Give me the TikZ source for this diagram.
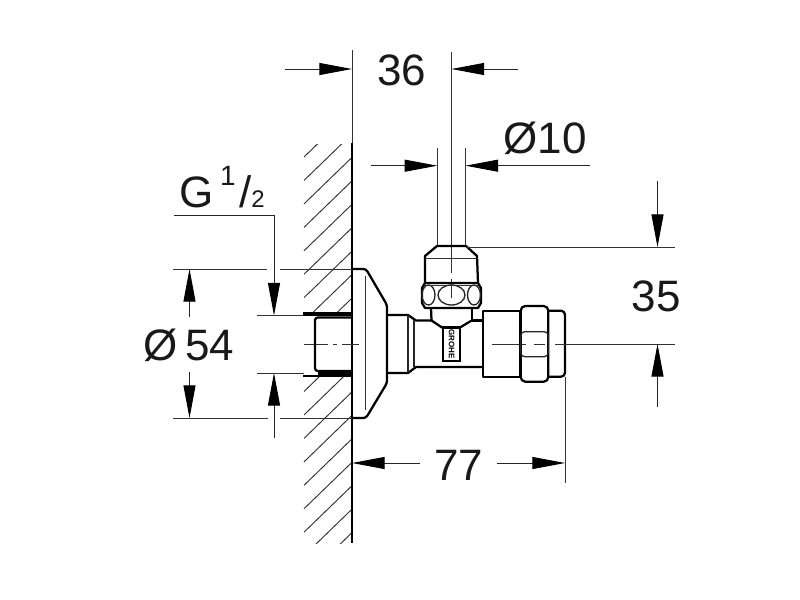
\documentclass[tikz,border=0pt]{standalone}
\usepackage{fontspec}
\setmainfont{Liberation Sans}
\usetikzlibrary{arrows.meta}
\tikzset{
  thin line/.style={line width=0.75pt,draw=black!80},
  part/.style={line width=1.7pt,draw=black,line join=round},
  mid line/.style={line width=1.0pt,draw=black!85},
  dimarrow/.style={line width=0.75pt,draw=black!85,-{Triangle[length=24.5pt,width=9pt,color=black,fill=black]}},
  hatchline/.style={line width=0.7pt,draw=black!80},
  dimtext/.style={inner sep=0pt,anchor=base,font=\fontsize{33}{33}\selectfont,text=black!90},
}
\begin{document}
\begin{tikzpicture}[x=0.75pt,y=-0.75pt]
\useasboundingbox (0,0) rectangle (800,600);
\fill[white] (0,0) rectangle (800,600);
% hatching
\begin{scope}
\clip (303.5,144) rectangle (352,313);
\foreach \k in {0,...,18} \draw[hatchline] (304,157+23.45*\k) -- ++(48,-46.5);
\end{scope}
\begin{scope}
\clip (303.5,375) rectangle (352,543);
\foreach \k in {0,...,18} \draw[hatchline] (304,157+23.45*\k) -- ++(48,-46.5);
\end{scope}
% named points
\coordinate (wallT) at (352,50); \coordinate (wallM) at (352,143); \coordinate (wallB) at (352,543);
\coordinate (riseT) at (451.5,52); \coordinate (riseB) at (451.5,273);
\coordinate (pipeLT) at (437.3,148); \coordinate (pipeLB) at (437.3,246);
\coordinate (pipeRT) at (465.5,148); \coordinate (pipeRB) at (465.5,246);
% wall
\draw[thin line] (wallT) -- (wallM);
\draw[part] (wallM) -- (wallB);
% pipe and centre lines
\draw[thin line] (pipeLT) -- (pipeLB);
\draw[thin line] (pipeRT) -- (pipeRB);
\draw[thin line] (riseT) -- (riseB);
\draw[thin line] (451.5,279) -- (451.5,298);
\draw[thin line] (304,344) -- (328,344) (333,344) -- (337,344) (342,344) -- (359,344);
\draw[thin line] (491.5,344) -- (526,344) (534,344) -- (545,344);
% flange
\draw[part,rounded corners=2pt] (352,269) -- (366,269) -- (387,305) -- (387,383) -- (366,418) -- (352,418);
\draw[thin line] (365,276) -- (365,410);
% nipple
\draw[part,rounded corners=2pt] (352,317.5) -- (315,317.5) -- (315,371) -- (352,371);
\fill[black] (303,312) rectangle (352,316);
\fill[black] (303,374.5) rectangle (352,377);
\fill[black] (318,371) rectangle (352,375);
% neck and body
\draw[part] (387,315) -- (408,315) -- (416,320.5) -- (431.5,320.5) -- (431,308);
\draw[part] (387,373) -- (408,373) -- (416,367) -- (483.3,367);
\draw[mid line] (408,315) -- (408,373);
\draw[mid line] (414,320) -- (414,367);
\draw[part] (471.7,308) -- (471.7,320.5) -- (483.3,320.5);
\draw[part] (431.5,320.5) -- (442,327.5) -- (460,327.5) -- (471.7,320.5);
\draw[line width=2.2pt,draw=black] (443,327.5) rectangle (460,361);
\node[inner sep=0pt,rotate=-90,font=\fontsize{6}{6}\bfseries\selectfont] (brand) at (451.5,344) {GROHE};
% nut on riser
\draw[part] (437,246) -- (466,246) -- (477,256) -- (478,283) -- (425,283) -- (425,256) -- cycle;
\draw[thin line] (425,258) -- (477,258);
\draw[thin line] (425,285.5) -- (478,285.5);
\draw[part] (425,283) -- (422,288) -- (422,303) -- (425,308) -- (478,308) -- (481,303) -- (481,288) -- (478,283);
\draw[mid line] (428.5,295) ellipse [x radius=6.5,y radius=10];
\draw[mid line] (474,295) ellipse [x radius=6.5,y radius=10];
\draw[mid line] (451.5,295) ellipse [x radius=13.5,y radius=10];
% outlet and compression nut
\draw[part] (483.3,310.7) rectangle (520.5,376.7);
\draw[part,rounded corners=3pt] (548.3,310.7) -- (565,310.7) -- (565,376.7) -- (548.3,376.7);
\draw[part,rounded corners=3.5pt] (520.7,306) rectangle (548.3,381.7);
\draw[mid line,rounded corners=3pt] (520.7,331.7) rectangle (548.3,356.7);
% --- dimensions ---
% 36
\coordinate (a1) at (285,69); \coordinate (a2) at (352,69);
\coordinate (a3) at (518,69); \coordinate (a4) at (451.5,69);
\draw[dimarrow] (a1) -- (a2);
\draw[dimarrow] (a3) -- (a4);
\node[dimtext] (t36) at (401.5,85) {36};
% dia 10
\coordinate (b1) at (370.5,165.7); \coordinate (b2) at (437.3,165.7);
\coordinate (b3) at (590,165.7); \coordinate (b4) at (465.5,165.7);
\draw[dimarrow] (b1) -- (b2);
\draw[dimarrow] (b3) -- (b4);
\node[dimtext] (t10) at (545,153) {Ø10};
% G 1/2
\coordinate (g0) at (174,215); \coordinate (g1) at (274,215);
\coordinate (g2) at (274,315.5); \coordinate (g3) at (274,438); \coordinate (g4) at (274,373);
\draw[dimarrow] (g0) -- (g1) -- (g2);
\draw[dimarrow] (g3) -- (g4);
\node[dimtext,anchor=base west] (tg) at (179,207) {G\kern 5pt\raisebox{16pt}{\fontsize{21}{21}\selectfont 1}\kern 2.5pt/{\fontsize{18}{18}\selectfont 2}};
% extension lines
\coordinate (e1) at (173,269); \coordinate (e2) at (267,269);
\coordinate (e3) at (280,269); \coordinate (e4) at (352,269);
\coordinate (e5) at (173,418); \coordinate (e6) at (268,418);
\coordinate (e7) at (280,418); \coordinate (e8) at (352,418);
\draw[thin line] (e1) -- (e2);
\draw[thin line] (e3) -- (e4);
\draw[thin line] (e5) -- (e6);
\draw[thin line] (e7) -- (e8);
\coordinate (e9) at (257,315); \coordinate (e10) at (304,315);
\coordinate (e11) at (257,373); \coordinate (e12) at (304,373);
\draw[thin line] (e9) -- (e10);
\draw[thin line] (e11) -- (e12);
% dia 54
\coordinate (c1) at (189.5,317); \coordinate (c2) at (189.5,269);
\coordinate (c3) at (189.5,372); \coordinate (c4) at (189.5,418);
\draw[dimarrow] (c1) -- (c2);
\draw[dimarrow] (c3) -- (c4);
\node[dimtext] (t54) at (189,360) {Ø\kern 5.5pt 54};
% 35
\coordinate (d0) at (466,247); \coordinate (d1) at (675,247);
\coordinate (d2) at (555,344); \coordinate (d3) at (675,344);
\draw[thin line] (d0) -- (d1);
\draw[thin line] (d2) -- (d3);
\coordinate (d4) at (657.5,181); \coordinate (d5) at (657.5,247);
\coordinate (d6) at (657.5,407); \coordinate (d7) at (657.5,344);
\draw[dimarrow] (d4) -- (d5);
\draw[dimarrow] (d6) -- (d7);
\node[dimtext] (t35) at (656,311) {35};
% 77
\coordinate (f0) at (565,376.7); \coordinate (f1) at (565,483);
\draw[thin line] (f0) -- (f1);
\coordinate (f2) at (420,463); \coordinate (f3) at (352,463);
\coordinate (f4) at (497,463); \coordinate (f5) at (565,463);
\draw[dimarrow] (f2) -- (f3);
\draw[dimarrow] (f4) -- (f5);
\node[dimtext] (t77) at (459,480) {77};
\end{tikzpicture}
\end{document}
